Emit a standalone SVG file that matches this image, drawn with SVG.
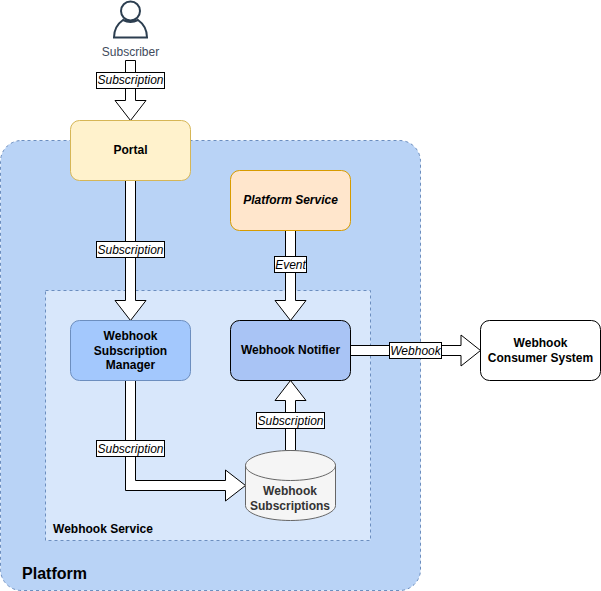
<svg xmlns="http://www.w3.org/2000/svg" width="601" height="591" viewBox="0 0 601 591">
<style>
text{font-family:"Liberation Sans",Arial,sans-serif;font-size:12px;text-anchor:middle;fill:#000}
.b{font-weight:bold}
.box{stroke-width:1}
.arrow{fill:#fff;stroke:#000;stroke-width:1;stroke-linejoin:miter}
.lab{fill:#fff;stroke:#000;stroke-width:1}
.i{font-style:italic}
</style>
<rect width="601" height="591" fill="#fff"/>
<g id="platform"><rect x="0.5" y="140.500" width="420" height="450" rx="21" fill="#b9d3f6" stroke="#6c8ebf" stroke-dasharray="3 3"/>
<text class="b" x="54.500" y="579" style="font-size:16px">Platform</text></g>
<g id="webhook-service"><rect x="45.500" y="290.500" width="325" height="250" fill="#d8e7fb" stroke="#6c8ebf" stroke-dasharray="3 3"/>
<text class="b" x="103" y="533">Webhook Service</text></g>
<g id="connectors">
<path class="arrow" d="M125.500 60.500h10v40h10.500L130.500 120.500 115 100.500h10.500z"/>
<path class="arrow" d="M125.500 180.500h10v120h10.500L130.500 320.500 115 300.500h10.500z"/>
<path class="arrow" d="M285.500 230.500h10v70h10.500L290.500 320.500 275 300.500h10.500z"/>
<path class="arrow" d="M125.500 380.500h10v100h90v-10.500L245.500 485.500 225.500 501v-10.500h-100z"/>
<path class="arrow" d="M285.500 450.500v-50h-10.500L290.500 380.500 306 400.500h-10.500v50z"/>
<path class="arrow" d="M350.500 345.500h110.500v-10.500L480.500 350.500 461 366v-10.500H350.500z"/>
<g><rect class="lab" x="96.500" y="72.500" width="68" height="16"/><text class="i" x="130.500" y="84">Subscription</text></g>
<g><rect class="lab" x="96.500" y="241.500" width="68" height="16"/><text class="i" x="130.500" y="254">Subscription</text></g>
<g><rect class="lab" x="274.500" y="256.500" width="32" height="16"/><text class="i" x="290.500" y="268.500">Event</text></g>
<g><rect class="lab" x="96.500" y="440.500" width="68" height="16"/><text class="i" x="130.500" y="452.500">Subscription</text></g>
<g><rect class="lab" x="256.500" y="412.500" width="68" height="16"/><text class="i" x="290.500" y="424.500">Subscription</text></g>
<g><rect class="lab" x="389.500" y="342.500" width="52" height="16"/><text class="i" x="415.500" y="354.500">Webhook</text></g>
</g>
<g id="subscriber"><g fill="none" stroke="#2c3e50" stroke-width="2"><circle cx="130.500" cy="11" r="9.500"/><path d="M114 37.500c0-8 4-14 9-17.500 5 2.500 10 2.500 15 0 5 3.500 9 9.500 9 17.500z"/></g>
<text x="130.500" y="56" style="fill:#414b5c">Subscriber</text></g>
<g id="portal"><rect class="box" x="70.500" y="120.500" width="120" height="60" rx="9" fill="#fff2cc" stroke="#d6b656"/><text class="b" x="130.500" y="154">Portal</text></g>
<g id="platform-service"><rect class="box" x="230.500" y="170.500" width="120" height="60" rx="9" fill="#ffe6cc" stroke="#d79b00"/><text class="b i" x="290.500" y="204">Platform Service</text></g>
<g id="manager"><rect class="box" x="70.500" y="320.500" width="120" height="60" rx="9" fill="#a3c8fd" stroke="#6c8ebf"/><text class="b" x="130.500" y="340">Webhook</text><text class="b" x="130.500" y="355">Subscription</text><text class="b" x="130.500" y="369">Manager</text></g>
<g id="notifier"><rect class="box" x="230.500" y="320.500" width="120" height="60" rx="9" fill="#a9c4f5" stroke="#000"/><text class="b" x="290.500" y="354">Webhook Notifier</text></g>
<g id="consumer"><rect class="box" x="480.500" y="320.500" width="120" height="60" rx="9" fill="#fff" stroke="#000"/><text class="b" x="540.500" y="347">Webhook</text><text class="b" x="540.500" y="362">Consumer System</text></g>
<g id="store"><path d="M245.500 465.500c0-8 20-15 45-15s45 7 45 15v40c0 8-20 15-45 15s-45-7-45-15z" fill="#f5f5f5" stroke="#666"/><path d="M245.500 465.500c0 8 20 15 45 15s45-7 45-15" fill="none" stroke="#666"/>
<text class="b" x="290" y="495" style="fill:#333">Webhook</text><text class="b" x="290" y="510" style="fill:#333">Subscriptions</text></g>
</svg>
